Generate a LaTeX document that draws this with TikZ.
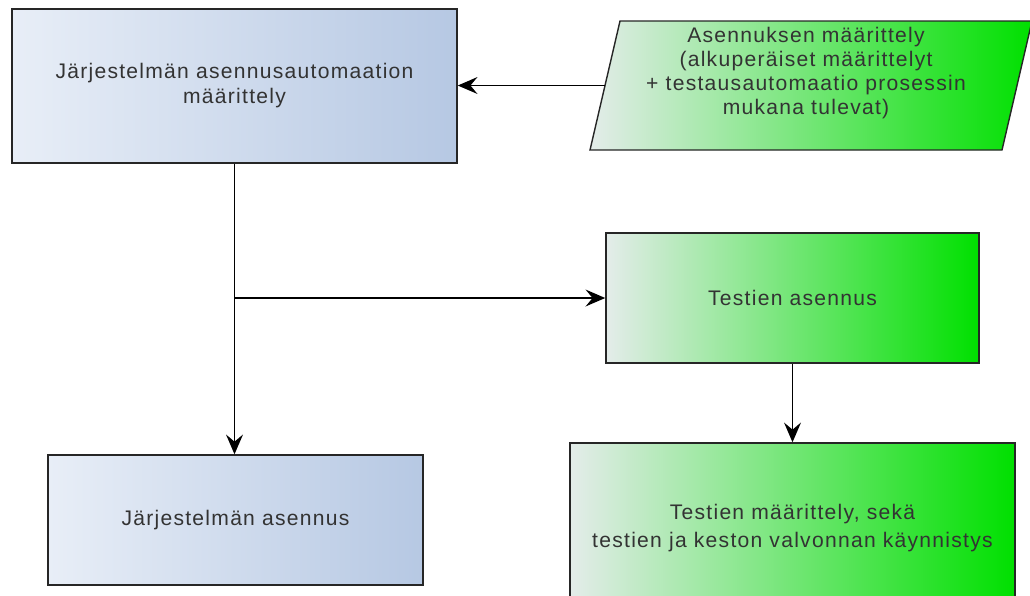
\documentclass[tikz,border=0pt]{standalone}
\usepackage{fontspec}
\setmainfont{Liberation Sans}[LetterSpace=6]
\usetikzlibrary{arrows.meta}
\definecolor{bluelight}{HTML}{E8EEF7}
\definecolor{bluedark}{HTML}{B6C8E3}
\definecolor{greenlight}{HTML}{E4ECEA}
\definecolor{greendark}{HTML}{00E000}
\definecolor{textgray}{HTML}{333333}
\begin{document}
\begin{tikzpicture}[x=0.025cm,y=-0.025cm,
    bluebox/.style = {draw=black!85, line width=1pt, left color=bluelight, right color=bluedark,
      text=textgray, align=center, font=\fontsize{15}{17.8}\selectfont},
    greenbox/.style = {draw=black!85, line width=1pt, left color=greenlight, right color=greendark,
      text=black!80, align=center, font=\fontsize{15}{17}\selectfont},
    link/.style = {line width=1pt, -{Stealth[length=14pt,width=12pt,inset=5pt]}}]
  \useasboundingbox (0,0) rectangle (1030,595);
  \clip (0,0) rectangle (1030,595);
  % nodes
  \node[bluebox, minimum width=11.125cm, minimum height=3.85cm] (sysdef) at (234.5,86)
    {Järjestelmän asennusautomaation\\määrittely};
  \draw[greenbox] (620,21) -- (1032,21) -- (1002,150) -- (590,150) -- cycle;
  \coordinate (instdefin) at (605,85.5);
  \node[text=black!80, align=center, font=\fontsize{15}{17.2}\selectfont] (instdef) at (806,73)
    {Asennuksen määrittely\\(alkuperäiset määrittelyt\\+ testausautomaatio prosessin\\mukana tulevat)};
  \node[greenbox, minimum width=9.325cm, minimum height=3.25cm] (testinst) at (792.5,298)
    {Testien asennus};
  \node[greenbox, minimum width=11.125cm, minimum height=4.25cm, font=\fontsize{15}{20.5}\selectfont]
    (testdef) at (792.5,528)
    {Testien määrittely, sekä\\testien ja keston valvonnan käynnistys};
  \node[bluebox, minimum width=9.375cm, minimum height=3.25cm] (sysinst) at (235.5,520)
    {Järjestelmän asennus};
  % connectors
  \coordinate (fork) at (sysdef.south |- testinst.west);
  \draw[link] (instdefin) -- (sysdef.east |- instdefin);
  \draw[link] (sysdef.south) -- (sysdef.south |- sysinst.north);
  \draw[link] (fork) -- (testinst.west);
  \draw[link] (testinst.south) -- (testdef.north);
\end{tikzpicture}
\end{document}
